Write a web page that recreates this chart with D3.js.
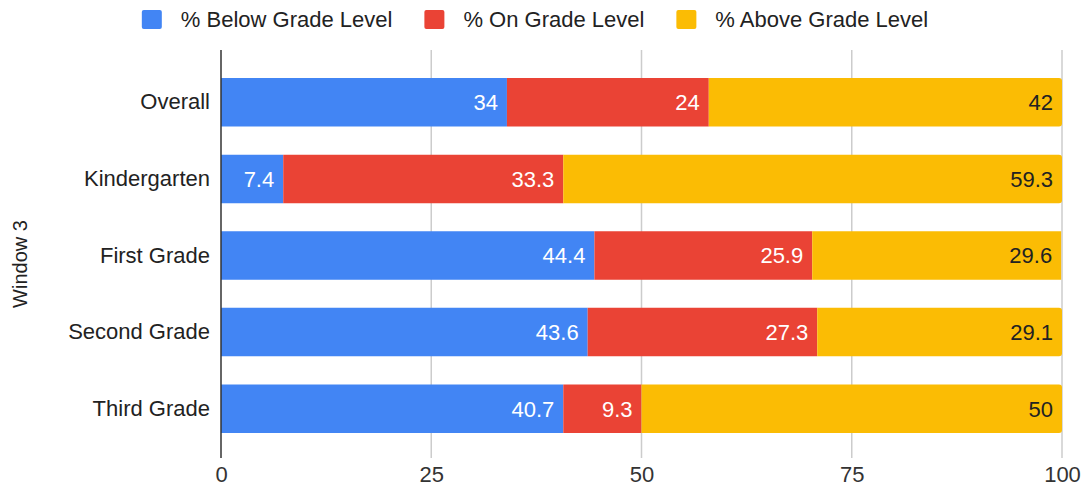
<!DOCTYPE html>
<html>
<head>
<meta charset="utf-8">
<script src="https://cdn.jsdelivr.net/npm/d3@7"></script>
<style>
  html, body { margin: 0; padding: 0; background: #fff; }
  svg { display: block; font-family: "Liberation Sans", Arial, sans-serif; }
</style>
</head>
<body>
<svg id="chart" width="1086" height="487"></svg>
<script>
// Reading levels by grade, Window 3
const categories = ["Overall", "Kindergarten", "First Grade", "Second Grade", "Third Grade"];
const seriesNames = ["% Below Grade Level", "% On Grade Level", "% Above Grade Level"];
const belowGrade = [34, 7.4, 44.4, 43.6, 40.7];
const onGrade = [24, 33.3, 25.9, 27.3, 9.3];
const aboveGrade = [42, 59.3, 29.6, 29.1, 50];
const xTicks = [0, 25, 50, 75, 100];
const axisTitle = "Window 3";

const colors = ["#4285F4", "#EA4335", "#FBBC04"];
const labelColors = ["#ffffff", "#ffffff", "#222222"];
const fontSize = 22;

const svg = d3.select("#chart");
const plotLeft = 221, plotRight = 1062, plotTop = 50, plotBottom = 458;

const x = d3.scaleLinear().domain([0, 100]).range([plotLeft, plotRight]);
const y = d3.scaleBand().domain(categories).range([plotTop, 461]).padding(0.367);

// Stacked rows
const rows = categories.map((c, i) => ({
  category: c,
  [seriesNames[0]]: belowGrade[i],
  [seriesNames[1]]: onGrade[i],
  [seriesNames[2]]: aboveGrade[i]
}));
const stacked = d3.stack().keys(seriesNames)(rows);

// Vertical gridlines
svg.append("g")
  .selectAll("line")
  .data(xTicks.filter(t => t > 0))
  .join("line")
  .attr("x1", d => x(d)).attr("x2", d => x(d))
  .attr("y1", plotTop).attr("y2", plotBottom)
  .attr("stroke", "#cccccc").attr("stroke-width", 1.5);

// Bar segments; the outermost segment gets slightly rounded right corners
const layers = svg.append("g").selectAll("g")
  .data(stacked)
  .join("g")
  .attr("fill", (d, i) => colors[i]);

layers.selectAll("path")
  .data(d => d)
  .join("path")
  .attr("d", d => {
    const x0 = x(d[0]), x1 = x(d[1]);
    const y0 = y(d.data.category), h = y.bandwidth();
    const r = d[1] >= 99.95 ? 3 : 0;
    return `M${x0},${y0}H${x1 - r}` +
      (r ? `Q${x1},${y0} ${x1},${y0 + r}V${y0 + h - r}Q${x1},${y0 + h} ${x1 - r},${y0 + h}` : `V${y0 + h}`) +
      `H${x0}Z`;
  });

// Value labels, right-aligned inside each segment
stacked.forEach((layer, i) => {
  svg.append("g")
    .selectAll("text")
    .data(layer)
    .join("text")
    .attr("x", d => x(d[1]) - 9)
    .attr("y", d => y(d.data.category) + y.bandwidth() / 2)
    .attr("dy", "0.36em")
    .attr("text-anchor", "end")
    .attr("font-size", fontSize)
    .attr("fill", labelColors[i])
    .text(d => d.data[seriesNames[i]]);
});

// Left axis (category labels)
const yAxis = svg.append("g")
  .attr("transform", `translate(${plotLeft},0)`)
  .call(d3.axisLeft(y).tickSize(0).tickPadding(11));
yAxis.select(".domain").remove();
yAxis.selectAll("text").attr("font-size", fontSize).attr("fill", "#222").attr("font-family", null);

svg.append("line")
  .attr("x1", plotLeft).attr("x2", plotLeft)
  .attr("y1", plotTop).attr("y2", plotBottom)
  .attr("stroke", "#333").attr("stroke-width", 1.5);

// Bottom axis (tick labels only)
const xAxis = svg.append("g")
  .attr("transform", `translate(0,${plotBottom})`)
  .call(d3.axisBottom(x).tickValues(xTicks).tickSize(0).tickPadding(8));
xAxis.select(".domain").remove();
xAxis.selectAll("text").attr("font-size", fontSize).attr("fill", "#333").attr("font-family", null);

// Axis title
svg.append("text")
  .attr("transform", "translate(27,264) rotate(-90)")
  .attr("text-anchor", "middle")
  .attr("font-size", 20)
  .attr("fill", "#222")
  .text(axisTitle);

// Legend, centred across the top
const legend = svg.append("g");
const items = legend.selectAll("g").data(seriesNames).join("g");
items.append("rect")
  .attr("width", 20).attr("height", 19).attr("rx", 2).attr("y", 10)
  .attr("fill", (d, i) => colors[i]);
items.append("text")
  .attr("x", 39).attr("y", 19.5).attr("dy", "0.36em")
  .attr("font-size", fontSize).attr("fill", "#222")
  .text(d => d);
let cursor = 0;
items.each(function() {
  const w = d3.select(this).select("text").node().getComputedTextLength();
  d3.select(this).attr("transform", `translate(${cursor},0)`);
  cursor += 39 + w + 32;
});
const total = cursor - 32;
legend.attr("transform", `translate(${535 - total / 2},0)`);
</script>
</body>
</html>
